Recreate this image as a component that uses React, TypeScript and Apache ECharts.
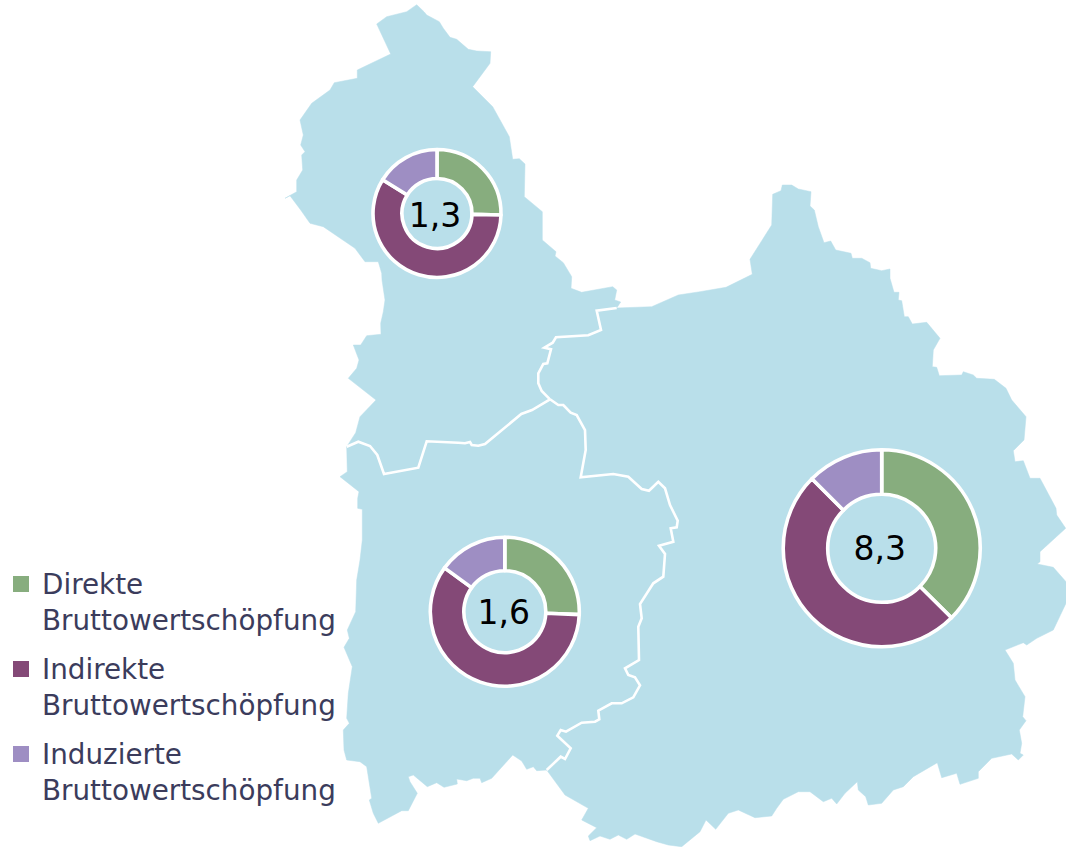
import React, { useEffect, useRef } from "react";
import * as echarts from "echarts";

const categories = ["Direkte\nBruttowertschöpfung", "Indirekte\nBruttowertschöpfung", "Induzierte\nBruttowertschöpfung"];
const colors = ["#87AD7E", "#844977", "#9E8EC3"];
const totals = ["1,3", "1,6", "8,3"];
const northValues = [0.33, 0.76, 0.21];
const southValues = [0.41, 0.95, 0.24];
const eastValues = [3.11, 4.15, 1.04];

type P = number[];
// Map outlines, in picture coordinates
const northOuter: P[] = [[346.7,446.7],[355.7,432.7],[360,416.7],[376,400],[348.3,378.3],[356.7,368.3],[359,360],[353.3,345],[360.7,345],[366.7,335.7],[381,334.3],[380.7,323.3],[383.3,311.7],[385,300],[382,280],[381.7,273.3],[378.3,261.7],[365,261.7],[355,248.3],[323.3,226.7],[310,223.3],[300.7,210],[290,195.7],[285,198.3],[296.7,191.7],[296.7,180],[302.7,170],[301.7,155],[305,151.7],[300.7,145],[303.3,135],[300,120],[311.7,103.3],[330,90],[334.3,82.7],[357.3,78.3],[357.3,70],[390.7,54],[376.7,24],[386.7,16.7],[406.7,11.7],[416.7,4.7],[424,11.7],[426.7,15],[439.3,21.7],[443.3,28.3],[450,37.3],[456.7,39.3],[468.3,49.3],[476.7,51],[490.7,51.7],[490,63.3],[472.7,86.7],[492.7,106.7],[509.3,136.7],[512.7,159.3],[519.3,158.7],[525,164],[524.3,196.7],[542.3,211.7],[542.3,240],[556,251.7],[555,256],[563.3,262.7],[571.7,276.7],[571,288.3],[581.7,292.3],[612.7,286.7],[616.7,290],[614.7,300],[620.7,302]];
const northEastBorder: P[] = [[616.7,308],[596.7,310.7],[601,330],[588.3,335.3],[556,337.3],[552.7,342.7],[544.3,347.7],[551,349.3],[547.3,363.3],[543.3,364],[538.3,373.3],[538.3,383.3],[541.7,391],[550,399.3]];
const westBorder: P[] = [[550,399.3],[532,410],[521.3,414],[485,444],[478.3,445.7],[471.7,445],[470,442],[465,443.3],[458.3,442.7],[426.7,441.3],[418.3,467.7],[384,474],[377.3,455],[370,446],[358.3,441.7],[346.7,446.7]];
const southBorder: P[] = [[550,399.3],[558.3,405],[563.3,405],[570.7,412.7],[576.7,415],[585,430],[585.7,450],[580.7,477.3],[613.3,474],[628.3,476.7],[641.7,489],[649,490.7],[658.3,481.7],[665,488.3],[670,505],[677.7,520.7],[676.7,527.3],[670.7,528.3],[673.3,541.7],[659,545.7],[665,554],[663.3,576.7],[653.3,583.3],[640,604],[641.7,618.3],[638.3,626.7],[639,660],[625,668.3],[628.3,675],[635,677.3],[640,685.3],[633.3,697.3],[621.7,703.3],[611.7,703.3],[598.3,710.7],[599.3,719.3],[595,721.7],[581.7,722.7],[566,731.7],[560.7,730],[557.3,735.7],[570.7,748.3],[565,759],[560.7,756.7],[546.7,770]];
const southOuter: P[] = [[536.7,770.7],[533.3,766.7],[526.7,769.3],[521.7,761],[512.7,755],[491.7,778.3],[481.7,782.7],[480,778.3],[473.3,778.3],[466.7,780.7],[456.7,779],[457.3,784],[444,787.3],[436.7,782.7],[427.3,786.7],[413.3,775],[408.3,776.7],[410,781.7],[417.3,793.3],[408.3,810.7],[401.7,810.7],[378.3,823.3],[373.3,813.3],[369.3,800],[371.7,798.3],[366.7,766.7],[360,761.7],[346.7,760],[344,750],[343.3,730],[349.3,723.3],[346.7,718.3],[348.3,693.3],[352.3,666.7],[344,647.3],[349.3,638.3],[347.3,630],[355.7,611.7],[356.7,580],[360,560],[362.3,540],[362.3,509.3],[357.7,508.3],[357.7,498.3],[359,491.7],[340,476.7],[347.3,471.7]];
const eastOuter: P[] = [[651.7,306.7],[678.3,295],[700,291.7],[726,287.3],[752.3,274.3],[750,259.3],[771.7,225],[772.7,194.3],[781,190.7],[782.3,185],[791.7,185],[798.3,189],[811,191.7],[810,206],[814.3,210],[818.3,226.7],[824,242.7],[830.7,241],[835.7,250],[851,253.3],[852.3,258.3],[861.7,258.3],[870,262.7],[870.7,268.3],[881.7,270.7],[890,269],[890,278.3],[894,292.3],[899,292.3],[898.3,300],[901.7,300.7],[904.3,316.7],[908.3,316.7],[912.3,324],[926.7,322.3],[940,338.3],[933.3,350],[932.3,366.7],[936.7,367.3],[939.3,375.7],[961.7,375],[963.3,371.7],[973.3,375],[976.7,378.3],[994.3,379.3],[1006,388.3],[1011.7,400],[1026,416.7],[1024,440],[1013.3,450.7],[1015,461.7],[1023.3,460.7],[1030,478.3],[1040,478.3],[1056,508.3],[1056.7,515],[1065.7,528.3],[1040,551.7],[1040,561.7],[1037.3,564],[1053.3,567.3],[1066,581.7],[1066,603.3],[1053.3,630],[1036.7,638.3],[1026.7,645],[1023.3,642.7],[1005,650],[1013.3,663.3],[1015,680],[1025,696.7],[1022.7,716.7],[1026,720.7],[1019.3,730],[1021.7,743.3],[1020,753.3],[1023.3,755],[1018.3,760],[1011.7,754],[991.7,758.3],[978.3,771.7],[978.3,778.3],[960,784.3],[956.7,773.3],[941.7,777.7],[937.3,762.7],[913.3,776.7],[903.3,786.7],[893.3,790],[881.7,803.3],[868.3,805],[865.7,796.7],[858.3,790],[857.3,781.7],[845,793.3],[836.7,804],[831.7,798.3],[823.3,801.7],[810,791.7],[798.3,791.7],[783.3,799.3],[776.7,808.3],[771.7,816],[755,817.7],[738.3,810],[728.3,813.3],[715.7,829.3],[706,820],[700,831.7],[681.7,846.7],[668.3,845],[656.7,841.7],[635,834],[626.7,839.3],[618.3,835],[610,839.3],[600,836],[590,840.7],[588.3,836],[596.7,827.7],[581.7,820],[588.3,808.3],[565,795]];

const W = 1066;
const H = 847;
const rev = (a: P[]) => [...a].reverse();

function feature(name: string, ring: P[]) {
  const c = ring.map(([x, y]) => [x, H - y]);
  c.push(c[0]);
  return { type: "Feature", properties: { name }, geometry: { type: "Polygon", coordinates: [c] } };
}

const geoJson = {
  type: "FeatureCollection",
  features: [
    feature("Nord", [...northOuter, ...northEastBorder, ...westBorder.slice(1, -1)]),
    feature("Süd", [...rev(westBorder), ...southBorder.slice(1), ...southOuter]),
    feature("Ost", [northEastBorder[0], ...eastOuter, ...rev(southBorder), ...rev(northEastBorder).slice(1, -1)]),
  ],
};

function borderLine(points: P[]) {
  return {
    type: "polyline",
    z: 1,
    silent: true,
    shape: { points },
    style: { stroke: "#fff", lineWidth: 2.6, fill: "none" },
  };
}

function donut(values: number[], total: string, center: number[], radius: number[], offset: number[]) {
  return {
    type: "pie",
    center,
    radius,
    startAngle: 90,
    silent: true,
    avoidLabelOverlap: false,
    labelLine: { show: false },
    label: { show: false },
    itemStyle: { borderColor: "#fff", borderWidth: 3.6 },
    data: values.map((value, i) => ({
      name: categories[i],
      value,
      itemStyle: { color: colors[i] },
      label:
        i === 0
          ? { show: true, position: "center", offset, formatter: total, color: "#000", fontSize: 33, fontFamily: "DejaVu Sans" }
          : { show: false },
    })),
  };
}

export default function App() {
  const ref = useRef<HTMLDivElement>(null);
  useEffect(() => {
    echarts.registerMap("region", geoJson as any);
    const chart = echarts.init(ref.current!, undefined, { renderer: "svg" });
    chart.setOption({
      animation: false,
      backgroundColor: "#fff",
      tooltip: { show: false },
      geo: {
        map: "region",
        left: 0,
        top: 0,
        width: W,
        height: H,
        aspectScale: 1,
        boundingCoords: [[0, H], [W, 0]],
        roam: false,
        silent: true,
        label: { show: false },
        itemStyle: { areaColor: "#B9DFEA", borderColor: "#B9DFEA", borderWidth: 0.5 },
        emphasis: { disabled: true },
      },
      graphic: [borderLine(northEastBorder), borderLine(westBorder), borderLine(southBorder)],
      legend: {
        left: 11,
        top: 530,
        orient: "vertical",
        align: "left",
        icon: "rect",
        itemWidth: 18,
        itemHeight: 18,
        itemGap: -23,
        selectedMode: false,
        data: categories,
        padding: 0,
        formatter: (name: string) => "\n" + name,
        textStyle: {
          color: "#3B3C5C",
          fontSize: 27.8,
          fontFamily: "DejaVu Sans",
          lineHeight: 36,
          padding: [0, 0, 0, 7],
        },
      },
      series: [
        donut(northValues, totals[0], [437, 213.5], [35, 64], [-2, 2]),
        donut(southValues, totals[1], [504.8, 611.7], [41, 74.5], [-1, 1]),
        donut(eastValues, totals[2], [881.7, 548.3], [54, 98.5], [-2, 0]),
      ],
    });
    return () => chart.dispose();
  }, []);
  return <div ref={ref} style={{ position: "absolute", left: 0, top: 0, width: W, height: H }} />;
}
